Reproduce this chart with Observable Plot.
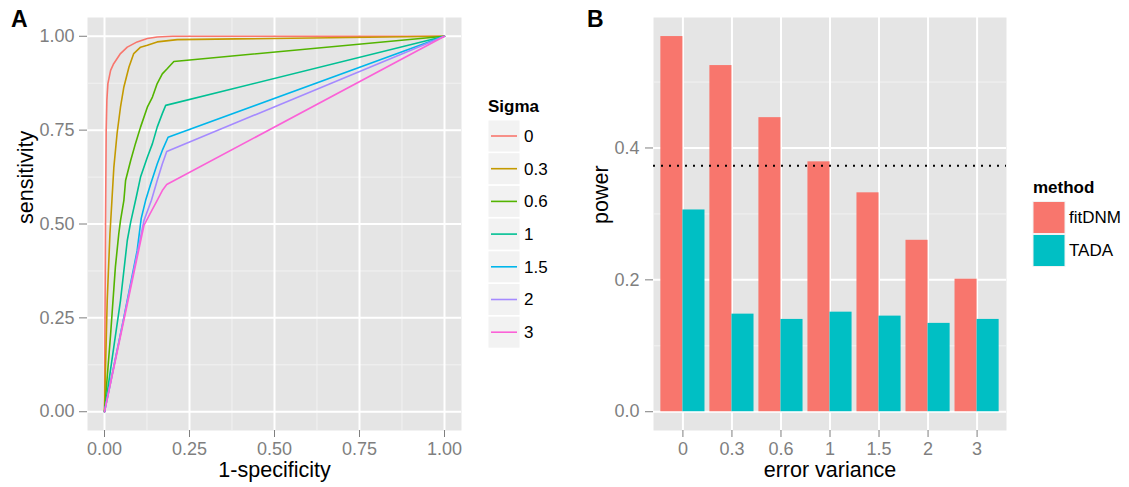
<!DOCTYPE html>
<html>
<head>
<meta charset="utf-8">
<script src="https://cdn.jsdelivr.net/npm/d3@7"></script>
<script src="https://cdn.jsdelivr.net/npm/@observablehq/plot@0.6"></script>
<style>
  body { margin: 0; background: #ffffff; font-family: "Liberation Sans", Arial, Helvetica, sans-serif; }
  #wrap { position: relative; width: 1129px; height: 487px; overflow: hidden; }
  #wrap > svg { position: absolute; top: 0; }
</style>
</head>
<body>
<div id="wrap"></div>
<script>
// ---------- Panel A data: ROC curves (1-specificity, sensitivity) ----------
const sigmaLevels = ["0", "0.3", "0.6", "1", "1.5", "2", "3"];
const sigmaColors = ["#F8766D", "#C49A00", "#53B400", "#00C094", "#00B6EB", "#A58AFF", "#FB61D7"];

const roc_sigma0 = [[0,0],[0.003,0.5],[0.005,0.75],[0.007,0.83],[0.010,0.874],[0.018,0.909],[0.027,0.927],[0.047,0.954],[0.067,0.971],[0.096,0.985],[0.126,0.994],[0.155,0.998],[0.2,1],[1,1]];
const roc_sigma03 = [[0,0],[0.003,0.118],[0.008,0.296],[0.016,0.474],[0.021,0.55],[0.0275,0.651],[0.037,0.741],[0.047,0.811],[0.057,0.865],[0.072,0.918],[0.086,0.954],[0.106,0.971],[0.126,0.976],[0.155,0.985],[0.214,0.991],[1,1]];
const roc_sigma06 = [[0,0],[0.018,0.207],[0.032,0.385],[0.042,0.474],[0.047,0.509],[0.057,0.563],[0.062,0.616],[0.077,0.669],[0.091,0.714],[0.106,0.758],[0.126,0.811],[0.141,0.838],[0.155,0.874],[0.170,0.900],[0.185,0.914],[0.204,0.933],[1,1]];
const roc_sigma1 = [[0,0],[0.047,0.296],[0.067,0.456],[0.077,0.505],[0.093,0.57],[0.106,0.625],[0.126,0.678],[0.141,0.714],[0.155,0.758],[0.170,0.794],[0.180,0.816],[1,1]];
const roc_sigma15 = [[0,0],[0.057,0.251],[0.096,0.429],[0.108,0.515],[0.121,0.563],[0.136,0.607],[0.155,0.660],[0.170,0.696],[0.187,0.731],[1,1]];
const roc_sigma2 = [[0,0],[0.105,0.46],[0.116,0.509],[0.138,0.563],[0.155,0.616],[0.170,0.660],[0.183,0.693],[1,1]];
const roc_sigma3 = [[0,0],[0.116,0.496],[0.131,0.522],[0.155,0.563],[0.170,0.589],[0.183,0.605],[1,1]];
const rocCurves = [roc_sigma0, roc_sigma03, roc_sigma06, roc_sigma1, roc_sigma15, roc_sigma2, roc_sigma3];

const rocTicks = [0, 0.25, 0.5, 0.75, 1];
const rocTickLabels = ["0.00", "0.25", "0.50", "0.75", "1.00"];
const rocMinorTicks = [0.125, 0.375, 0.625, 0.875];

// ---------- Panel B data: power by error variance ----------
const errorVariance = ["0", "0.3", "0.6", "1", "1.5", "2", "3"];
const methods = ["fitDNM", "TADA"];
const methodColors = ["#F8766D", "#00BFC4"];
const powerFitDNM = [0.569, 0.525, 0.446, 0.379, 0.332, 0.260, 0.201];
const powerTADA = [0.306, 0.148, 0.140, 0.151, 0.145, 0.134, 0.140];
const referencePower = 0.373;
const powerTicks = [0, 0.2, 0.4];
const powerTickLabels = ["0.0", "0.2", "0.4"];
const powerMinorTicks = [0.1, 0.3, 0.5];

// ---------- common style ----------
const FONT = '"Liberation Sans", Arial, Helvetica, sans-serif';
const PANEL_BG = "#e5e5e5";
const MINOR = "#f2f2f2";
const TICK_GREY = "#7f7f7f";
const TITLE_SIZE = 21.5;
const TICK_SIZE = 18;

const wrap = document.getElementById("wrap");

// ---------- Panel A ----------
const rocRows = sigmaLevels.flatMap((s, i) => rocCurves[i].map(([fpr, tpr]) => ({sigma: s, fpr, tpr})));

const plotA = Plot.plot({
  width: 475,
  height: 487,
  marginLeft: 87,
  marginRight: 14,
  marginTop: 17,
  marginBottom: 57,
  style: {fontFamily: FONT, background: "transparent", overflow: "visible"},
  x: {domain: [-0.05, 1.05], axis: null},
  y: {domain: [-0.05, 1.05], axis: null},
  color: {domain: sigmaLevels, range: sigmaColors},
  marks: [
    Plot.frame({fill: PANEL_BG, stroke: "none"}),
    Plot.gridX(rocMinorTicks, {stroke: MINOR, strokeOpacity: 1, strokeWidth: 1}),
    Plot.gridY(rocMinorTicks, {stroke: MINOR, strokeOpacity: 1, strokeWidth: 1}),
    Plot.gridX(rocTicks, {stroke: "#ffffff", strokeOpacity: 1, strokeWidth: 2}),
    Plot.gridY(rocTicks, {stroke: "#ffffff", strokeOpacity: 1, strokeWidth: 2}),
    Plot.line(rocRows, {x: "fpr", y: "tpr", z: "sigma", stroke: "sigma", strokeWidth: 1.6}),
    Plot.axisX(rocTicks, {tickFormat: d => rocTickLabels[rocTicks.indexOf(d)], tickSize: 7, tickPadding: 5, fontSize: TICK_SIZE, color: TICK_GREY, label: null}),
    Plot.axisY(rocTicks, {tickFormat: d => rocTickLabels[rocTicks.indexOf(d)], tickSize: 8, tickPadding: 5, fontSize: TICK_SIZE, color: TICK_GREY, label: null}),
    Plot.text(["1-specificity"], {frameAnchor: "bottom", lineAnchor: "middle", dy: 40, fontSize: TITLE_SIZE, fill: "#000000"}),
    Plot.text(["sensitivity"], {frameAnchor: "left", lineAnchor: "middle", dx: -61, rotate: -90, fontSize: TITLE_SIZE, fill: "#000000"})
  ]
});
plotA.style.left = "0px";
wrap.appendChild(plotA);

// ---------- Panel B ----------
const barRows = errorVariance.flatMap((v, i) => [
  {variance: v, idx: i, method: methods[0], power: powerFitDNM[i]},
  {variance: v, idx: i, method: methods[1], power: powerTADA[i]}
]);
const categoryIdx = errorVariance.map((v, i) => i);
const dodge = 0.45;

const plotB = Plot.plot({
  width: 450,
  height: 487,
  marginLeft: 83,
  marginRight: 14,
  marginTop: 17,
  marginBottom: 57,
  style: {fontFamily: FONT, background: "transparent", overflow: "visible"},
  x: {domain: [-0.6, errorVariance.length - 1 + 0.6], axis: null},
  y: {domain: [-0.02848, 0.5979], axis: null},
  color: {domain: methods, range: methodColors},
  marks: [
    Plot.frame({fill: PANEL_BG, stroke: "none"}),
    Plot.gridY(powerMinorTicks, {stroke: MINOR, strokeOpacity: 1, strokeWidth: 1}),
    Plot.gridX(categoryIdx, {stroke: "#ffffff", strokeOpacity: 1, strokeWidth: 2}),
    Plot.gridY(powerTicks, {stroke: "#ffffff", strokeOpacity: 1, strokeWidth: 2}),
    Plot.rect(barRows, {
      x1: d => d.method === methods[0] ? d.idx - dodge : d.idx,
      x2: d => d.method === methods[0] ? d.idx : d.idx + dodge,
      y1: d => 0,
      y2: "power",
      fill: "method"
    }),
    Plot.ruleY([referencePower], {stroke: "#000000", strokeWidth: 2, strokeDasharray: "2,6"}),
    Plot.axisX(categoryIdx, {tickFormat: i => errorVariance[i], tickSize: 7, tickPadding: 5, fontSize: TICK_SIZE, color: TICK_GREY, label: null}),
    Plot.axisY(powerTicks, {tickFormat: d => powerTickLabels[powerTicks.indexOf(d)], tickSize: 8, tickPadding: 6, fontSize: TICK_SIZE, color: TICK_GREY, label: null}),
    Plot.text(["error variance"], {frameAnchor: "bottom", lineAnchor: "middle", dy: 40, fontSize: TITLE_SIZE, fill: "#000000"}),
    Plot.text(["power"], {frameAnchor: "left", lineAnchor: "middle", dx: -52, rotate: -90, fontSize: TITLE_SIZE, fill: "#000000"})
  ]
});
plotB.style.left = "570px";
wrap.appendChild(plotB);

// ---------- Legends and panel tags ----------
const overlay = d3.select(wrap).append("svg")
  .attr("width", 1129).attr("height", 487)
  .style("left", "0px")
  .style("pointer-events", "none")
  .style("font-family", FONT);

overlay.append("text").attr("x", 11).attr("y", 27).attr("font-size", 23).attr("font-weight", "bold").text("A");
overlay.append("text").attr("x", 587).attr("y", 27).attr("font-size", 23).attr("font-weight", "bold").text("B");

// Legend A (Sigma)
const legA = overlay.append("g").attr("transform", "translate(488,0)");
legA.append("text").attr("x", 0).attr("y", 112).attr("font-size", 17).attr("font-weight", "bold").text("Sigma");
sigmaLevels.forEach((s, i) => {
  const y0 = 120.5 + i * 32.7;
  legA.append("rect").attr("x", 0.5).attr("y", y0).attr("width", 31).attr("height", 31).attr("fill", "#f2f2f2");
  legA.append("line").attr("x1", 3).attr("x2", 29).attr("y1", y0 + 15.5).attr("y2", y0 + 15.5)
    .attr("stroke", sigmaColors[i]).attr("stroke-width", 1.6);
  legA.append("text").attr("x", 36).attr("y", y0 + 15.5).attr("dy", "0.35em").attr("font-size", 17).text(s);
});

// Legend B (method)
const legB = overlay.append("g").attr("transform", "translate(1033,0)");
legB.append("text").attr("x", 0).attr("y", 193).attr("font-size", 17).attr("font-weight", "bold").text("method");
methods.forEach((m, i) => {
  const y0 = 201.5 + i * 33;
  legB.append("rect").attr("x", 0).attr("y", y0).attr("width", 32).attr("height", 32)
    .attr("fill", methodColors[i]).attr("stroke", "#f2f2f2").attr("stroke-width", 1);
  legB.append("text").attr("x", 36).attr("y", y0 + 16).attr("dy", "0.35em").attr("font-size", 17).text(m);
});
</script>
</body>
</html>
